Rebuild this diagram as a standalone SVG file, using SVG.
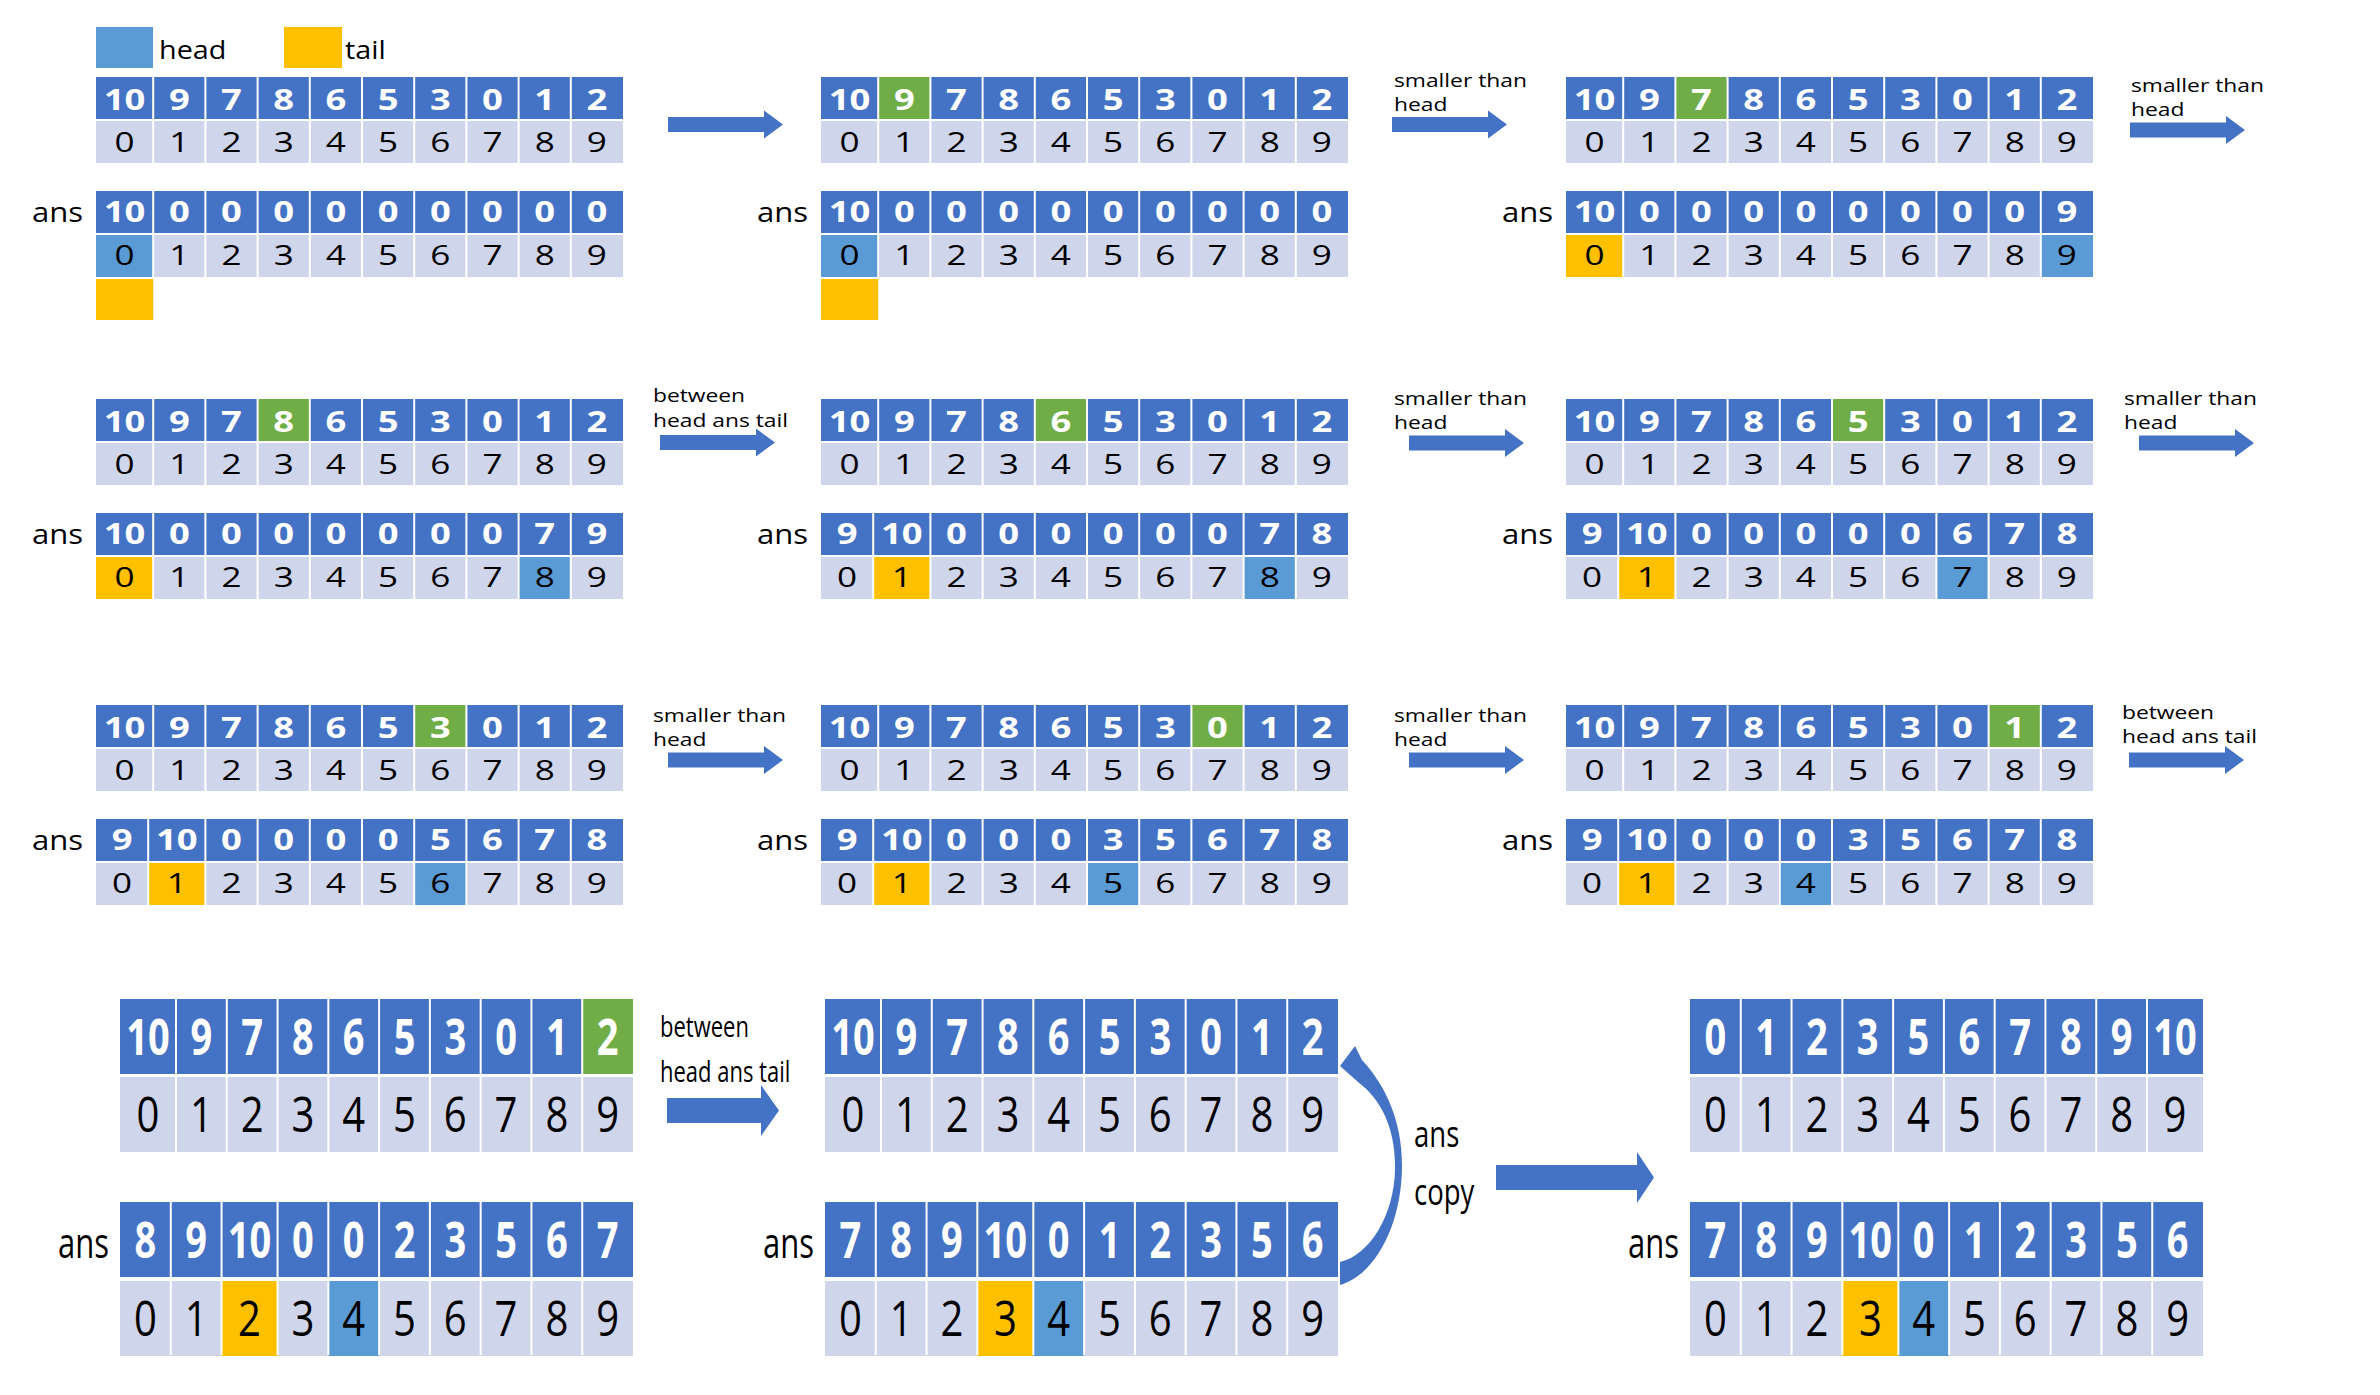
<svg xmlns="http://www.w3.org/2000/svg" width="2380" height="1395" viewBox="0 0 2380 1395">
<style>
.bv{fill:#4472C4}.bi{fill:#CFD5EA}.g{fill:#70AD47}.h{fill:#5B9BD5}.t{fill:#FFC000}
.sep{stroke:#fff;stroke-width:2;fill:none}
text{font-family:'Open Sans','Noto Sans','DejaVu Sans',sans-serif}
.v{font-weight:700;font-size:28px;fill:#fff;text-anchor:middle}
.i{font-size:27px;fill:#000;text-anchor:middle}
.l{font-size:19px;fill:#000}
.an{font-size:27px;fill:#000;text-anchor:end}
.lg{font-size:25px;fill:#000}
.V{font-weight:700;font-size:38px;fill:#fff;text-anchor:middle}
.I{font-size:40px;fill:#000;text-anchor:middle}
.AN{font-size:31px;fill:#000;text-anchor:end}
.L{font-size:22px;fill:#000}
.C{font-size:27.5px;fill:#000}
.arr{fill:#4472C4}
</style>
<defs>
<g id="bg"><rect class="bv" width="527" height="42"/><rect class="bi" y="44" width="527" height="42"/><rect class="bv" y="114" width="527" height="42"/><rect class="bi" y="158" width="527" height="42"/></g>
<path id="sL0" class="sep" d="M57.2 0V86M109.4 0V86M161.6 0V86M213.8 0V86M266 0V86M318.2 0V86M370.4 0V86M422.6 0V86M474.8 0V86"/>
<path id="sL1" class="sep" d="M52.2 0V86M109.4 0V86M161.6 0V86M213.8 0V86M266 0V86M318.2 0V86M370.4 0V86M422.6 0V86M474.8 0V86"/>
<text id="tv" class="v" y="33"><tspan x="22">10</tspan><tspan x="64.08 104.23 144.38 184.54 224.69 264.85 305 345.15 385.31">978653012</tspan></text>
<text id="ti0" class="i" x="22 64.08 104.23 144.38 184.54 224.69 264.85 305 345.15 385.31" y="75">0123456789</text>
<text id="ti1" class="i" x="20.08 62.15 104.23 144.38 184.54 224.69 264.85 305 345.15 385.31" y="75">0123456789</text>
<g id="bbg"><rect class="bv" width="513" height="75"/><rect class="bi" y="78" width="513" height="75"/><rect class="bv" y="203" width="513" height="75"/><rect class="bi" y="282" width="513" height="75"/></g>
<path id="sB0" class="sep" d="M56 0V153M106.78 0V153M157.56 0V153M208.33 0V153M259.11 0V153M309.89 0V153M360.67 0V153M411.44 0V153M462.22 0V153"/>
<path id="sB2" class="sep" d="M50.78 0V153M101.56 0V153M157.56 0V153M208.33 0V153M259.11 0V153M309.89 0V153M360.67 0V153M411.44 0V153M462.22 0V153"/>
<path id="sB3" class="sep" d="M50.78 0V153M101.56 0V153M152.33 0V153M208.33 0V153M259.11 0V153M309.89 0V153M360.67 0V153M411.44 0V153M462.22 0V153"/>
<path id="sB9" class="sep" d="M50.78 0V153M101.56 0V153M152.33 0V153M203.11 0V153M253.89 0V153M304.67 0V153M355.44 0V153M406.22 0V153M457 0V153"/>
<text id="bv0" class="V" y="42.1"><tspan x="28">10</tspan><tspan x="81.39 132.17 182.94 233.72 284.5 335.28 386.06 436.83 487.61">978653012</tspan></text>
<text id="bi0" class="I" x="28 81.39 132.17 182.94 233.72 284.5 335.28 386.06 436.83 487.61" y="106.4">0123456789</text>
<text id="bva3" class="V" y="194.7"><tspan x="25.39 76.17 126.94">789</tspan><tspan x="180.33">10</tspan><tspan x="233.72 284.5 335.28 386.06 436.83 487.61">012356</tspan></text>
<text id="bia3" class="I" x="25.39 76.17 126.94 180.33 233.72 284.5 335.28 386.06 436.83 487.61" y="269.6">0123456789</text>
<path id="ar" d="M0 -7.5H96V-14L115 0L96 14V7.5H0Z"/>
</defs>

<g id="legend">
<rect class="h" x="96" y="27" width="57" height="41"/>
<text class="lg" transform="translate(159,59) scale(1.15,1)">head</text>
<rect class="t" x="284" y="27" width="58" height="41"/>
<text class="lg" transform="translate(345,59) scale(1.15,1)">tail</text>
</g>

<g id="step1" transform="translate(96,77)">
<use href="#bg"/>
<rect class="h" y="158" width="57.2" height="42"/>
<rect class="t" y="202" width="57.2" height="41"/>
<use href="#sL0"/><use href="#sL0" y="114"/>
<g transform="scale(1.3,1)"><use href="#tv"/><use href="#ti0"/><text class="v" y="145"><tspan x="22">10</tspan><tspan x="64.08 104.23 144.38 184.54 224.69 264.85 305 345.15 385.31">000000000</tspan></text><use href="#ti0" y="113"/></g>
<text class="an" transform="translate(-13,145) scale(1.15,1)">ans</text>
</g>

<g id="step2" transform="translate(821,77)">
<use href="#bg"/>
<rect class="g" x="57.2" width="52.2" height="42"/>
<rect class="h" y="158" width="57.2" height="42"/>
<rect class="t" y="202" width="57.2" height="41"/>
<use href="#sL0"/><use href="#sL0" y="114"/>
<g transform="scale(1.3,1)"><use href="#tv"/><use href="#ti0"/><text class="v" y="145"><tspan x="22">10</tspan><tspan x="64.08 104.23 144.38 184.54 224.69 264.85 305 345.15 385.31">000000000</tspan></text><use href="#ti0" y="113"/></g>
<text class="an" transform="translate(-13,145) scale(1.15,1)">ans</text>
</g>

<g id="step3" transform="translate(1566,77)">
<use href="#bg"/>
<rect class="g" x="109.4" width="52.2" height="42"/>
<rect class="t" y="158" width="57.2" height="42"/>
<rect class="h" x="474.8" y="158" width="52.2" height="42"/>
<use href="#sL0"/><use href="#sL0" y="114"/>
<g transform="scale(1.3,1)"><use href="#tv"/><use href="#ti0"/><text class="v" y="145"><tspan x="22">10</tspan><tspan x="64.08 104.23 144.38 184.54 224.69 264.85 305 345.15 385.31">000000009</tspan></text><use href="#ti0" y="113"/></g>
<text class="an" transform="translate(-13,145) scale(1.15,1)">ans</text>
</g>

<g id="step4" transform="translate(96,399)">
<use href="#bg"/>
<rect class="g" x="161.6" width="52.2" height="42"/>
<rect class="t" y="158" width="57.2" height="42"/>
<rect class="h" x="422.6" y="158" width="52.2" height="42"/>
<use href="#sL0"/><use href="#sL0" y="114"/>
<g transform="scale(1.3,1)"><use href="#tv"/><use href="#ti0"/><text class="v" y="145"><tspan x="22">10</tspan><tspan x="64.08 104.23 144.38 184.54 224.69 264.85 305 345.15 385.31">000000079</tspan></text><use href="#ti0" y="113"/></g>
<text class="an" transform="translate(-13,145) scale(1.15,1)">ans</text>
</g>

<g id="step5" transform="translate(821,399)">
<use href="#bg"/>
<rect class="g" x="213.8" width="52.2" height="42"/>
<rect class="t" x="52.2" y="158" width="57.2" height="42"/>
<rect class="h" x="422.6" y="158" width="52.2" height="42"/>
<use href="#sL0"/><use href="#sL1" y="114"/>
<g transform="scale(1.3,1)"><use href="#tv"/><use href="#ti0"/><text class="v" y="145"><tspan x="20.08">9</tspan><tspan x="62.15">10</tspan><tspan x="104.23 144.38 184.54 224.69 264.85 305 345.15 385.31">00000078</tspan></text><use href="#ti1" y="113"/></g>
<text class="an" transform="translate(-13,145) scale(1.15,1)">ans</text>
</g>

<g id="step6" transform="translate(1566,399)">
<use href="#bg"/>
<rect class="g" x="266" width="52.2" height="42"/>
<rect class="t" x="52.2" y="158" width="57.2" height="42"/>
<rect class="h" x="370.4" y="158" width="52.2" height="42"/>
<use href="#sL0"/><use href="#sL1" y="114"/>
<g transform="scale(1.3,1)"><use href="#tv"/><use href="#ti0"/><text class="v" y="145"><tspan x="20.08">9</tspan><tspan x="62.15">10</tspan><tspan x="104.23 144.38 184.54 224.69 264.85 305 345.15 385.31">00000678</tspan></text><use href="#ti1" y="113"/></g>
<text class="an" transform="translate(-13,145) scale(1.15,1)">ans</text>
</g>

<g id="step7" transform="translate(96,705)">
<use href="#bg"/>
<rect class="g" x="318.2" width="52.2" height="42"/>
<rect class="t" x="52.2" y="158" width="57.2" height="42"/>
<rect class="h" x="318.2" y="158" width="52.2" height="42"/>
<use href="#sL0"/><use href="#sL1" y="114"/>
<g transform="scale(1.3,1)"><use href="#tv"/><use href="#ti0"/><text class="v" y="145"><tspan x="20.08">9</tspan><tspan x="62.15">10</tspan><tspan x="104.23 144.38 184.54 224.69 264.85 305 345.15 385.31">00005678</tspan></text><use href="#ti1" y="113"/></g>
<text class="an" transform="translate(-13,145) scale(1.15,1)">ans</text>
</g>

<g id="step8" transform="translate(821,705)">
<use href="#bg"/>
<rect class="g" x="370.4" width="52.2" height="42"/>
<rect class="t" x="52.2" y="158" width="57.2" height="42"/>
<rect class="h" x="266" y="158" width="52.2" height="42"/>
<use href="#sL0"/><use href="#sL1" y="114"/>
<g transform="scale(1.3,1)"><use href="#tv"/><use href="#ti0"/><text class="v" y="145"><tspan x="20.08">9</tspan><tspan x="62.15">10</tspan><tspan x="104.23 144.38 184.54 224.69 264.85 305 345.15 385.31">00035678</tspan></text><use href="#ti1" y="113"/></g>
<text class="an" transform="translate(-13,145) scale(1.15,1)">ans</text>
</g>

<g id="step9" transform="translate(1566,705)">
<use href="#bg"/>
<rect class="g" x="422.6" width="52.2" height="42"/>
<rect class="t" x="52.2" y="158" width="57.2" height="42"/>
<rect class="h" x="213.8" y="158" width="52.2" height="42"/>
<use href="#sL0"/><use href="#sL1" y="114"/>
<g transform="scale(1.3,1)"><use href="#tv"/><use href="#ti0"/><text class="v" y="145"><tspan x="20.08">9</tspan><tspan x="62.15">10</tspan><tspan x="104.23 144.38 184.54 224.69 264.85 305 345.15 385.31">00035678</tspan></text><use href="#ti1" y="113"/></g>
<text class="an" transform="translate(-13,145) scale(1.15,1)">ans</text>
</g>

<g id="step10" transform="translate(120,999)">
<use href="#bbg"/>
<rect class="g" x="462.22" width="50.78" height="75"/>
<rect class="t" x="101.56" y="282" width="56" height="75"/>
<rect class="h" x="208.33" y="282" width="50.78" height="75"/>
<use href="#sB0"/><use href="#sB2" y="203"/>
<g transform="scale(1,1.33)"><use href="#bv0"/><text class="V" y="194.7"><tspan x="25.39 76.17">89</tspan><tspan x="129.56">10</tspan><tspan x="182.94 233.72 284.5 335.28 386.06 436.83 487.61">0023567</tspan></text></g>
<g transform="scale(1,1.25)"><use href="#bi0"/><text class="I" x="25.39 76.17 129.56 182.94 233.72 284.5 335.28 386.06 436.83 487.61" y="269.6">0123456789</text></g>
<text class="AN" transform="translate(-11,259) scale(1,1.33)">ans</text>
</g>

<g id="step11" transform="translate(825,999)">
<use href="#bbg"/>
<rect class="t" x="152.33" y="282" width="56" height="75"/>
<rect class="h" x="208.33" y="282" width="50.78" height="75"/>
<use href="#sB0"/><use href="#sB3" y="203"/>
<g transform="scale(1,1.33)"><use href="#bv0"/><use href="#bva3"/></g>
<g transform="scale(1,1.25)"><use href="#bi0"/><use href="#bia3"/></g>
<text class="AN" transform="translate(-11,259) scale(1,1.33)">ans</text>
</g>

<g id="result" transform="translate(1690,999)">
<use href="#bbg"/>
<rect class="t" x="152.33" y="282" width="56" height="75"/>
<rect class="h" x="208.33" y="282" width="50.78" height="75"/>
<use href="#sB9"/><use href="#sB3" y="203"/>
<g transform="scale(1,1.33)"><text class="V" y="42.1"><tspan x="25.39 76.17 126.94 177.72 228.5 279.28 330.06 380.83 431.61">012356789</tspan><tspan x="485">10</tspan></text><use href="#bva3"/></g>
<g transform="scale(1,1.25)"><text class="I" x="25.39 76.17 126.94 177.72 228.5 279.28 330.06 380.83 431.61 485" y="106.4">0123456789</text><use href="#bia3"/></g>
<text class="AN" transform="translate(-11,259) scale(1,1.33)">ans</text>
</g>

<g id="connectors">
<use href="#ar" class="arr" transform="translate(668,124.5)"/>
<use href="#ar" class="arr" transform="translate(1392,124.5)"/>
<use href="#ar" class="arr" transform="translate(2130,130)"/>
<use href="#ar" class="arr" transform="translate(660,442.5)"/>
<use href="#ar" class="arr" transform="translate(1409,443)"/>
<use href="#ar" class="arr" transform="translate(2139,443)"/>
<use href="#ar" class="arr" transform="translate(668,760)"/>
<use href="#ar" class="arr" transform="translate(1409,760)"/>
<use href="#ar" class="arr" transform="translate(2129,760)"/>
<path class="arr" d="M667 1098H761V1085L779 1110.5L761 1136V1123H667Z"/>
<path class="arr" d="M1496 1165H1637V1152L1654 1177.5L1637 1203V1190H1496Z"/>
<path class="arr" d="M1340 1066L1355 1046L1362 1060C1385 1085 1402 1120 1402 1165C1402 1225 1375 1275 1340 1285L1340 1262C1370 1255 1394 1215 1395 1170C1396 1130 1382 1100 1358 1082Z"/>
</g>

<g id="labels">
<text class="l" transform="translate(1394,87) scale(1.2,1)"><tspan x="0">smaller than</tspan><tspan x="0" y="24">head</tspan></text>
<text class="l" transform="translate(2131,92) scale(1.2,1)"><tspan x="0">smaller than</tspan><tspan x="0" y="24">head</tspan></text>
<text class="l" transform="translate(653,402) scale(1.2,1)"><tspan x="0">between</tspan><tspan x="0" y="25">head ans tail</tspan></text>
<text class="l" transform="translate(1394,405) scale(1.2,1)"><tspan x="0">smaller than</tspan><tspan x="0" y="24">head</tspan></text>
<text class="l" transform="translate(2124,405) scale(1.2,1)"><tspan x="0">smaller than</tspan><tspan x="0" y="24">head</tspan></text>
<text class="l" transform="translate(653,722) scale(1.2,1)"><tspan x="0">smaller than</tspan><tspan x="0" y="24">head</tspan></text>
<text class="l" transform="translate(1394,722) scale(1.2,1)"><tspan x="0">smaller than</tspan><tspan x="0" y="24">head</tspan></text>
<text class="l" transform="translate(2122,719) scale(1.2,1)"><tspan x="0">between</tspan><tspan x="0" y="24">head ans tail</tspan></text>
<text class="L" transform="translate(660,1037) scale(1,1.32)">between</text>
<text class="L" transform="translate(660,1082) scale(1,1.32)">head ans tail</text>
<text class="C" transform="translate(1414,1147) scale(1,1.33)">ans</text>
<text class="C" transform="translate(1414,1205) scale(1,1.33)">copy</text>
</g>
</svg>
